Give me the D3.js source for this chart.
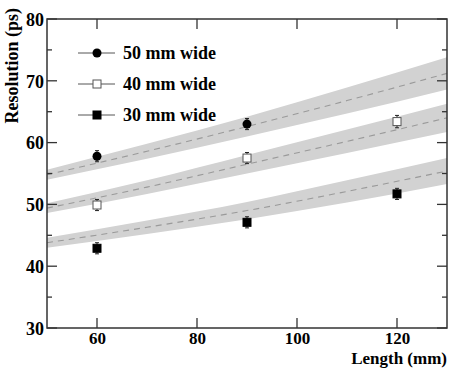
<!DOCTYPE html>
<html><head><meta charset="utf-8">
<script src="https://cdn.jsdelivr.net/npm/d3@7"></script>
<style>
body{margin:0;background:#fff;}
text{font-family:"Liberation Serif","Times New Roman",serif;font-weight:bold;}
</style></head>
<body><svg id="c" width="471" height="373"></svg>
<script>
// Data
const seriesNames = ["50 mm wide", "40 mm wide", "30 mm wide"];
const lengths50 = [60, 90];
const res50 = [57.8, 63.0];
const err50 = [0.9, 0.9];
const lengths40 = [60, 90, 120];
const res40 = [49.9, 57.5, 63.4];
const err40 = [0.9, 0.9, 1.0];
const lengths30 = [60, 90, 120];
const res30 = [42.9, 47.1, 51.7];
const err30 = [0.9, 0.9, 0.9];
// Fit bands
const bandX = [50, 70, 90, 110, 130];
const fit50 = [54.8, 58.6, 62.6, 66.8, 71.2];
const half50 = [0.8, 1.2, 1.6, 2.1, 2.6];
const fit40 = [49.4, 52.8, 56.5, 60.2, 64.0];
const half40 = [0.8, 1.1, 1.5, 1.9, 2.3];
const fit30 = [43.8, 46.3, 49.0, 52.1, 55.4];
const half30 = [0.8, 1.1, 1.4, 1.8, 2.1];
const xTicks = [60, 80, 100, 120];
const yTicks = [30, 40, 50, 60, 70, 80];

const svg = d3.select("#c");
const L = 47, R = 447, T = 19, B = 328;
const FS = 18;
const x = d3.scaleLinear().domain([50, 130]).range([L, R]);
const y = d3.scaleLinear().domain([30, 80]).range([B, T]);

// bands
const bands = [[fit50, half50], [fit40, half40], [fit30, half30]];
bands.forEach(([f, h]) => {
  const pts = bandX.map((v, i) => ({x: v, c: f[i], h: h[i]}));
  svg.append("path").datum(pts)
    .attr("d", d3.area().x(d => x(d.x)).y0(d => y(d.c - d.h)).y1(d => y(d.c + d.h)).curve(d3.curveMonotoneX))
    .attr("fill", "#d2d2d2");
  svg.append("path").datum(pts)
    .attr("d", d3.line().x(d => x(d.x)).y(d => y(d.c)).curve(d3.curveMonotoneX))
    .attr("fill", "none").attr("stroke", "#9a9a9a").attr("stroke-width", 1.1)
    .attr("stroke-dasharray", "6,5");
});

// axes
const ax = "#333";
svg.append("rect").attr("x", L).attr("y", T).attr("width", R - L).attr("height", B - T)
  .attr("fill", "none").attr("stroke", ax).attr("stroke-width", 1.5);

const bottom = d3.axisBottom(x).tickValues(xTicks).tickSize(0).tickPadding(0);
const gx = svg.append("g").attr("transform", `translate(0,${B})`).call(bottom);
gx.select(".domain").remove();
gx.selectAll("text").attr("font-size", 17).attr("fill", "#000").attr("dy", null).attr("y", 16);
gx.selectAll(".tick line").remove();
xTicks.forEach(v => {
  svg.append("line").attr("x1", x(v)).attr("x2", x(v)).attr("y1", B).attr("y2", B - 10).attr("stroke", ax).attr("stroke-width", 1.3);
  svg.append("line").attr("x1", x(v)).attr("x2", x(v)).attr("y1", T).attr("y2", T + 10).attr("stroke", ax).attr("stroke-width", 1.3);
});

const left = d3.axisLeft(y).tickValues(yTicks).tickSize(0).tickPadding(3);
const gy = svg.append("g").attr("transform", `translate(${L},0)`).call(left);
gy.select(".domain").remove();
gy.selectAll("text").attr("font-size", FS).attr("fill", "#000").attr("dy", "0.35em");
d3.range(30, 81, 5).forEach(v => {
  const len = v % 10 === 0 ? 10 : 5;
  svg.append("line").attr("x1", L).attr("x2", L + len).attr("y1", y(v)).attr("y2", y(v)).attr("stroke", ax).attr("stroke-width", 1.3);
  svg.append("line").attr("x1", R).attr("x2", R - len).attr("y1", y(v)).attr("y2", y(v)).attr("stroke", ax).attr("stroke-width", 1.3);
});

// axis titles
svg.append("text").attr("transform", `translate(18,8) rotate(-90)`).attr("text-anchor", "end")
  .attr("font-size", FS).text("Resolution (ps)");
svg.append("text").attr("x", R).attr("y", 364).attr("text-anchor", "end")
  .attr("font-size", 17).text("Length (mm)");

// points
const series = [
  {lx: lengths50, v: res50, e: err50, type: "circle", fill: "#000", stroke: "#000"},
  {lx: lengths40, v: res40, e: err40, type: "square", fill: "#fff", stroke: "#555"},
  {lx: lengths30, v: res30, e: err30, type: "square", fill: "#000", stroke: "#000"}
];
function marker(sel, s, cx, cy) {
  if (s.type === "circle") {
    sel.append("circle").attr("cx", cx).attr("cy", cy).attr("r", 4.5).attr("fill", s.fill);
  } else {
    sel.append("rect").attr("x", cx - 4).attr("y", cy - 4).attr("width", 8).attr("height", 8)
      .attr("fill", s.fill).attr("stroke", s.stroke).attr("stroke-width", 1);
  }
}
series.forEach(s => {
  s.lx.forEach((lv, i) => {
    const cx = x(lv), y1 = y(s.v[i] + s.e[i]), y2 = y(s.v[i] - s.e[i]);
    svg.append("line").attr("x1", cx).attr("x2", cx).attr("y1", y1).attr("y2", y2).attr("stroke", "#222").attr("stroke-width", 1);
    [y1, y2].forEach(yy => svg.append("line").attr("x1", cx - 2).attr("x2", cx + 2).attr("y1", yy).attr("y2", yy).attr("stroke", "#222").attr("stroke-width", 1));
    marker(svg, s, cx, y(s.v[i]));
  });
});

// legend
const legY = [53, 84, 115];
series.forEach((s, i) => {
  svg.append("line").attr("x1", 78).attr("x2", 115).attr("y1", legY[i]).attr("y2", legY[i]).attr("stroke", "#555").attr("stroke-width", 1);
  marker(svg, s, 97, legY[i]);
  svg.append("text").attr("x", 123).attr("y", legY[i]).attr("dy", "0.35em").attr("font-size", FS).text(seriesNames[i]);
});
</script></body></html>
